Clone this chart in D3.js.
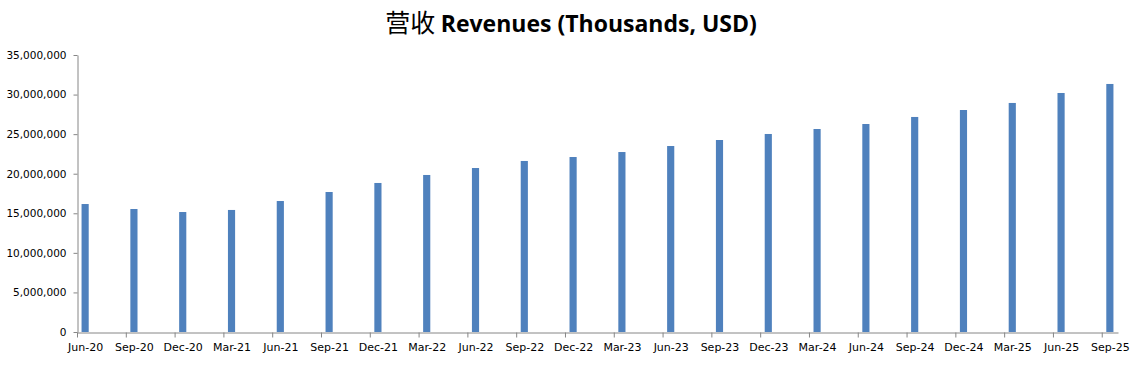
<!DOCTYPE html>
<html>
<head>
<meta charset="utf-8">
<script src="https://cdn.jsdelivr.net/npm/d3@7"></script>
<style>
	body { margin: 0; background: #fff; }
	svg { display: block; }
	.axis text { font-family: "DejaVu Sans", Verdana, sans-serif; font-size: 10.5px; fill: #000; }
	.axis path, .axis line { stroke: #868686; }
</style>
</head>
<body>
<div id="viz"></div>
<script>
// quarters, revenues in thousands USD
const quarters = ['Jun-20', 'Sep-20', 'Dec-20', 'Mar-21', 'Jun-21', 'Sep-21', 'Dec-21', 'Mar-22',
	'Jun-22', 'Sep-22', 'Dec-22', 'Mar-23', 'Jun-23', 'Sep-23', 'Dec-23', 'Mar-24',
	'Jun-24', 'Sep-24', 'Dec-24', 'Mar-25', 'Jun-25', 'Sep-25'];
const revenues = [16170000, 15540000, 15160000, 15420000, 16550000, 17690000, 18830000, 19840000,
	20720000, 21610000, 22110000, 22740000, 23500000, 24260000, 25020000, 25650000,
	26280000, 27170000, 28050000, 28940000, 30200000, 31340000];
const yTicks = [0, 5000000, 10000000, 15000000, 20000000, 25000000, 30000000, 35000000];
const months = 64; // monthly date axis, Jun-20 .. Sep-25

let width = 1147, height = 365;
let margin = { top: 55, right: 29, bottom: 33, left: 77 };

let svg = d3.select('#viz').append('svg')
	.attr('width', width)
	.attr('height', height);

let title = svg.append('text')
	.attr('x', 571)
	.attr('y', 32)
	.attr('text-anchor', 'middle')
	.style('font-family', '"Open Sans", "Noto Sans", sans-serif')
	.style('font-size', '23px')
	.style('font-weight', 'bold');
title.append('tspan')
	.style('font-family', '"Noto Sans CJK SC", sans-serif')
	.style('font-weight', 'normal')
	.style('font-size', '25px')
	.text('营收 ');
title.append('tspan').text('Revenues (Thousands, USD)');

let x = d3.scaleLinear()
	.domain([0, months])
	.range([margin.left, width - margin.right]);

let y = d3.scaleLinear()
	.domain([0, 35000000])
	.range([height - margin.bottom, margin.top]);

let data = quarters.map((q, i) => ({ q, m: i * 3, v: revenues[i] }));

// bars, centred in their month slot
let bw = x(0.44) - x(0);
svg.append('g')
	.selectAll('rect')
	.data(data)
	.join('rect')
	.attr('x', d => x(d.m + 0.5) - bw / 2)
	.attr('y', d => y(d.v))
	.attr('width', bw)
	.attr('height', d => y(0) - y(d.v))
	.attr('fill', '#4F81BD');

let yAxis = g => g
	.attr('class', 'axis')
	.attr('transform', `translate(${margin.left + 0.5},0)`)
	.call(d3.axisLeft(y)
		.tickValues(yTicks)
		.tickSize(4)
		.tickSizeOuter(0)
		.tickPadding(7)
		.tickFormat(d3.format(',')));

let xAxis = g => g
	.attr('class', 'axis x-axis')
	.attr('transform', `translate(0,${y(0) + 0.5})`)
	.call(d3.axisBottom(x)
		.tickValues(data.map(d => d.m))
		.tickSize(5)
		.tickSizeOuter(0)
		.tickPadding(6)
		.tickFormat((d, i) => quarters[i]));

svg.append('g').call(xAxis);
svg.append('g').call(yAxis);

// labels sit under the bars, not on the ticks
svg.selectAll('.x-axis text')
	.attr('x', x(0.5) - x(0))
	.style('font-size', '11px');
</script>
</body>
</html>
